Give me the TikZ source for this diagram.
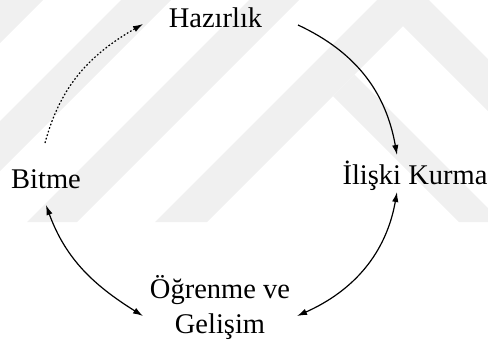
\documentclass[tikz,border=0pt]{standalone}
\usepackage{fontspec}
\setmainfont{Liberation Serif}
\usetikzlibrary{arrows.meta}
\begin{document}
\begin{tikzpicture}[x=0.5pt,y=0.5pt,
  lbl/.style={font=\fontsize{14.25}{17.5}\selectfont, inner sep=0pt, anchor=base},
  tipstyle/.style={line width=0.6pt},
  flow/.style={tipstyle, -{Latex[length=5pt,width=3.2pt]}},
  twoway/.style={tipstyle, {Latex[length=5pt,width=3.2pt]}-{Latex[length=5pt,width=3.2pt]}},
  dotflow/.style={flow, dash pattern=on 0.85pt off 1pt},
  wm/.style={fill=black!6, draw=none}]
\useasboundingbox (0,0) rectangle (488,345);

% faint background emblem: diagonal bands and chevron legs
\begin{scope}[shift={(0,345)},yscale=-1]
  \clip (0,0) rectangle (488,222);
  \fill[wm] (0,0) -- (43,0) -- (0,43) -- cycle;
  \fill[wm] (-101,222) -- (-51,222) -- (171,0) -- (121,0) -- cycle;
  \fill[wm] (27,222) -- (77,222) -- (299,0) -- (249,0) -- cycle;
  \fill[wm] (155,222) -- (207,222) -- (429,0) -- (377,0) -- cycle;
  \fill[wm] (403,26) -- (488,111) -- (488,59) -- (429,0) -- (400,0) -- cycle;
  \fill[wm] (333,96) -- (459,222) -- (488,222) -- (488,208) -- (354.5,74.5) -- cycle;
\end{scope}

% stages
\node[lbl] (haz)  at (215.5,318) {Hazırlık};
\node[lbl] (ilis) at (415,161)   {İlişki Kurma};
\node[lbl, align=center] (ogr) at (220,12) {Öğrenme ve\\Gelişim};
\node[lbl] (bit)  at (46,157)    {Bitme};

% connector ends
\coordinate (hazR)  at (298,320);
\coordinate (ilisT) at (397,190);
\coordinate (ilisB) at (397,153);
\coordinate (ogrR)  at (297,29);
\coordinate (ogrL)  at (143,29);
\coordinate (bitB)  at (46,140);
\coordinate (bitT)  at (45,202);
\coordinate (hazL)  at (143,321);

% cycle
\draw[flow]   (hazR) to[out=-25, in=100] (ilisT);
\draw[twoway] (ilisB) to[out=-100, in=24] (ogrR);
\draw[twoway] (bitB) to[out=-70, in=148] (ogrL);
\draw[dotflow] (bitT) to[out=75, in=210] (hazL);
\end{tikzpicture}
\end{document}
